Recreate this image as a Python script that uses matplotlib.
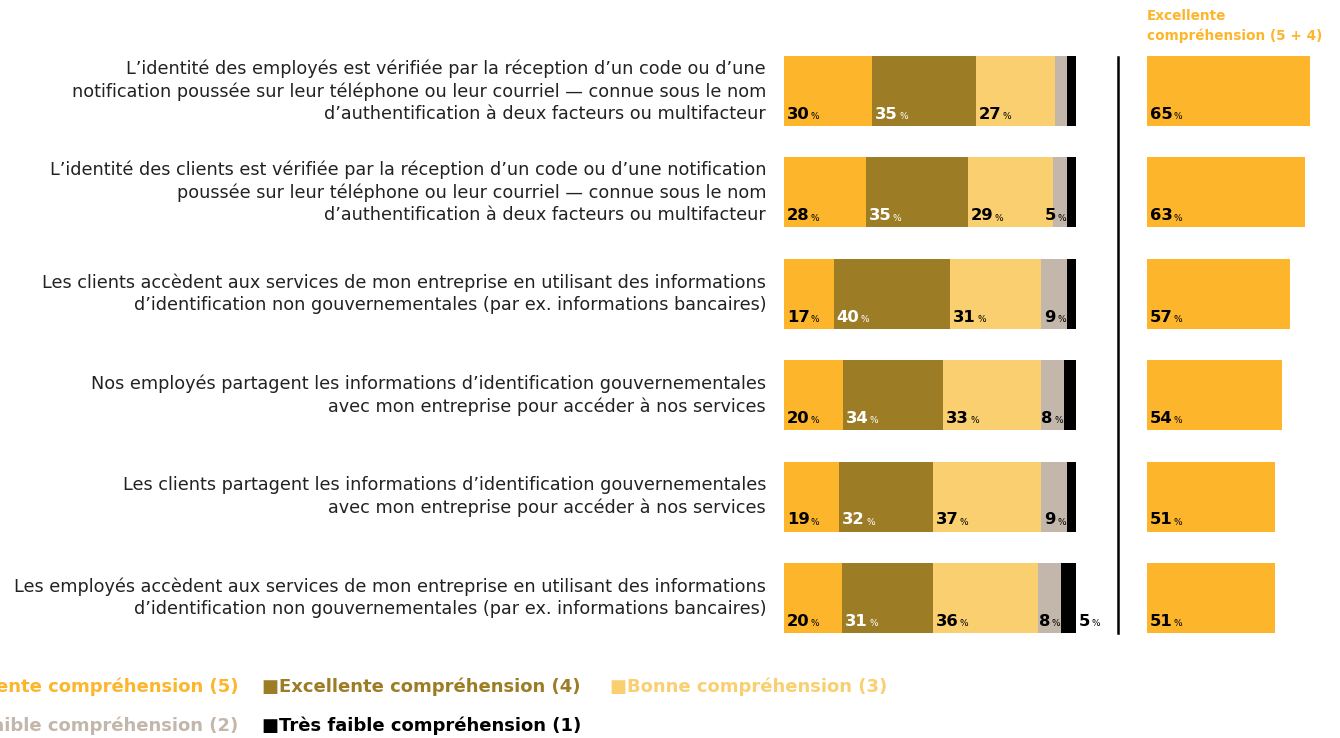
import matplotlib
matplotlib.use("Agg")
import matplotlib.pyplot as plt
import numpy as np
from matplotlib.lines import Line2D

categories = [
    "L\u2019identité des employés est vérifiée par la réception d\u2019un code ou d\u2019une\nnotification poussée sur leur téléphone ou leur courriel \u2014 connue sous le nom\nd\u2019authentification à deux facteurs ou multifacteur",
    "L\u2019identité des clients est vérifiée par la réception d\u2019un code ou d\u2019une notification\npoussée sur leur téléphone ou leur courriel \u2014 connue sous le nom\nd\u2019authentification à deux facteurs ou multifacteur",
    "Les clients accèdent aux services de mon entreprise en utilisant des informations\nd\u2019identification non gouvernementales (par ex. informations bancaires)",
    "Nos employés partagent les informations d\u2019identification gouvernementales\navec mon entreprise pour accéder à nos services",
    "Les clients partagent les informations d\u2019identification gouvernementales\navec mon entreprise pour accéder à nos services",
    "Les employés accèdent aux services de mon entreprise en utilisant des informations\nd\u2019identification non gouvernementales (par ex. informations bancaires)",
]
series_names = [
    "Excellente compréhension (5)",
    "Excellente compréhension (4)",
    "Bonne compréhension (3)",
    "Faible compréhension (2)",
    "Très faible compréhension (1)",
]
s5 = [30, 28, 17, 20, 19, 20]
s4 = [35, 35, 40, 34, 32, 31]
s3 = [27, 29, 31, 33, 37, 36]
s2 = [4, 5, 9, 8, 9, 8]
s1 = [3, 3, 3, 4, 3, 5]
top2 = [65, 63, 57, 54, 51, 51]
right_title = "Excellente\ncompréhension (5 + 4)"

colors = ["#FDB52B", "#9C7C25", "#FACF6F", "#C3B6AA", "#000000"]
label_colors = ["black", "white", "black", "black", "black"]

FONT = "DejaVu Sans"
W, H = 1340, 738
fig = plt.figure(figsize=(W / 100, H / 100), dpi=100)

def fx(px):
    return px / W

def fy(py):
    return 1 - py / H

top_px, bot_px = 40.3, 648.7
ax = fig.add_axes([fx(784), fy(bot_px), fx(292), (bot_px - top_px) / H])
ax2 = fig.add_axes([fx(1147), fy(bot_px), fx(250), (bot_px - top_px) / H])

data = np.array([s5, s4, s3, s2, s1], dtype=float)
norm = data / data.sum(axis=0) * 100
y = np.arange(len(categories))
bh = 0.69

NUM_FS, PCT_FS = 11.8, 6.5


def pct_label(axis, x, yy, val, color, off):
    t = axis.annotate(f"{int(val)}", xy=(x, yy), xytext=(off, 3),
                      textcoords="offset points", ha="left", va="bottom",
                      fontsize=NUM_FS, fontweight="bold", color=color,
                      family=FONT, zorder=6)
    axis.annotate("%", xy=(1, 0), xycoords=t, xytext=(1, 0.5),
                  textcoords="offset points", ha="left", va="bottom",
                  fontsize=PCT_FS, color=color, family=FONT, zorder=6)


def pct_label_right(axis, x, yy, val, color, off):
    p = axis.annotate("%", xy=(x, yy), xytext=(off, 3.5),
                      textcoords="offset points", ha="right", va="bottom",
                      fontsize=PCT_FS, color=color, family=FONT, zorder=6)
    axis.annotate(f"{int(val)}", xy=(0, 0), xycoords=p, xytext=(-1, -0.5),
                  textcoords="offset points", ha="right", va="bottom",
                  fontsize=NUM_FS, fontweight="bold", color=color,
                  family=FONT, zorder=6)


left = np.zeros(len(categories))
for k in range(5):
    ax.barh(y, norm[k], left=left, height=bh, color=colors[k], linewidth=0, zorder=2)
    for i in range(len(categories)):
        v = data[k, i]
        if v >= 5:
            if k == 4:
                pct_label(ax, left[i] + norm[k, i], y[i] + bh / 2, v, label_colors[k], 2)
            elif k == 3:
                pct_label_right(ax, left[i] + norm[k, i], y[i] + bh / 2, v, label_colors[k], -1)
            else:
                pct_label(ax, left[i], y[i] + bh / 2, v, label_colors[k], 2)
    left += norm[k]

ax.set_xlim(0, 100)
ax.set_ylim(len(categories) - 0.5, -0.5)
ax.axis("off")

ax2.barh(y, top2, height=bh, color=colors[0], linewidth=0)
for i, v in enumerate(top2):
    pct_label(ax2, 0, y[i] + bh / 2, v, "black", 2)
ax2.set_xlim(0, 100)
ax2.set_ylim(len(categories) - 0.5, -0.5)
ax2.axis("off")

# category labels
for i, c in enumerate(categories):
    ax.text(-18 / 2.92, y[i], c, ha="right", va="center", fontsize=12.7,
            color="#222222", family=FONT, linespacing=1.3)

# divider line
fig.add_artist(Line2D([fx(1118), fx(1118)], [fy(57), fy(633)], color="black", lw=1.8))

# right title
fig.text(fx(1147), fy(9), right_title, ha="left", va="top", fontsize=9.8,
         fontweight="bold", color=colors[0], family=FONT, linespacing=1.45)

# legend (manual, first column clipped by figure edge)
leg_pos = [(238, 687, "right"), (262, 687, "left"), (610, 687, "left"),
           (238, 726, "right"), (262, 726, "left")]
for k, (px, py, ha) in enumerate(leg_pos):
    fig.text(fx(px), fy(py), "\u25A0" + series_names[k], ha=ha, va="center",
             fontsize=13, fontweight="bold", color=colors[k], family=FONT)

fig.savefig("out.png", dpi=100)
